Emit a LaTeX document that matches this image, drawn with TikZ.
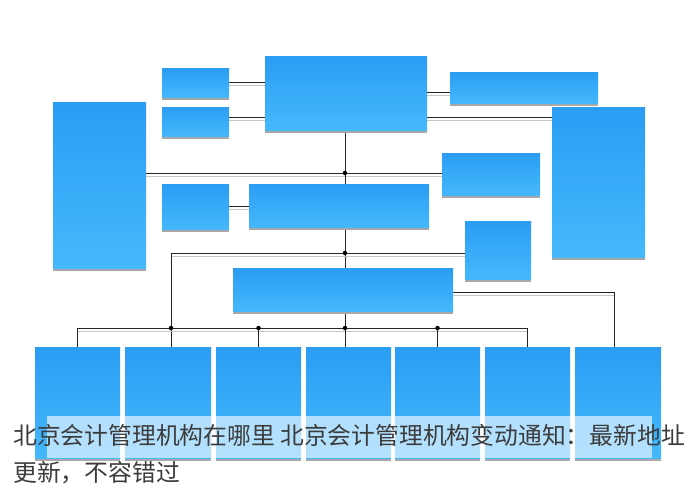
\documentclass[tikz,border=0pt]{standalone}
\usepackage{fontspec}
\newfontfamily\cjk{Noto Sans CJK SC}
\usetikzlibrary{shadows}
\pgfdeclarelayer{bg}
\pgfdeclarelayer{lines}
\pgfsetlayers{bg,lines,main}
\definecolor{boxtop}{HTML}{2A9DF4}
\definecolor{boxbot}{HTML}{45B8FC}
\definecolor{shade}{HTML}{A8A8A8}
\definecolor{txt}{HTML}{3C3C3C}
\tikzset{
  bx/.style={inner sep=0pt, outer sep=0pt, top color=boxtop, bottom color=boxbot, draw=none,
    drop shadow={shadow xshift=0pt, shadow yshift=-3pt, fill=shade, opacity=1}},
  conn/.style={draw=black!85, line width=0.9pt,
    preaction={draw=black!22, line width=0.9pt, transform canvas={yshift=-3pt}}},
  jdot/.style={circle, fill=black, inner sep=0pt, minimum size=4.5pt},
}
% \boxat{name}{x1}{y1}{x2}{y2}
\newcommand{\boxat}[5]{\node[bx, minimum width={#4-#2}, minimum height={#5-#3}] (#1) at ({(#2+#4)/2},{(#3+#5)/2}) {};}
\begin{document}
\begin{tikzpicture}[x=1pt,y=-1pt]
\useasboundingbox (0,0) rectangle (700,488);
\begin{pgfonlayer}{bg}
\fill[white] (0,0) rectangle (700,488);
\end{pgfonlayer}
% boxes
\boxat{A}{162}{68}{229}{97}
\boxat{B}{162}{107}{229}{136}
\boxat{T}{265}{56}{427}{130}
\boxat{L}{53}{102}{146}{268}
\boxat{C}{162}{184}{229}{229}
\boxat{M}{249}{184}{429}{227}
\boxat{TR}{450}{72}{598}{103}
\boxat{R}{552}{107}{645}{257}
\boxat{RM}{442}{153}{540}{195}
\boxat{RS}{465}{221}{531}{279}
\boxat{W}{233}{268}{453}{311}
\boxat{b1}{35}{347}{120}{458}
\boxat{b2}{125}{347}{211}{458}
\boxat{b3}{216}{347}{301}{458}
\boxat{b4}{306}{347}{391}{458}
\boxat{b5}{395}{347}{480}{458}
\boxat{b6}{485}{347}{570}{458}
\boxat{b7}{575}{347}{661}{458}
\coordinate (tx) at (345,0);
\coordinate (lx) at (171,0);
\coordinate (bus) at (0,328);
\coordinate (wr) at (614,0);
\begin{pgfonlayer}{lines}
\draw[conn] (A.east) -- (A.east -| T.west);
\draw[conn] (B.east |- 0,117) -- (T.west |- 0,117);
\draw[conn] (T.east |- 0,92) -- (TR.west |- 0,92);
\draw[conn] (T.east |- 0,117) -- (R.west |- 0,117);
\draw[conn] (L.east |- 0,173) -- (RM.west |- 0,173);
\draw[conn] (C.east) -- (C.east -| M.west);
\draw[conn] (tx |- T.south) -- (tx |- W.north);
\draw[conn] (lx |- 0,253) -- (RS.west |- 0,253);
\draw[conn] (lx |- 0,253) -- (lx |- b2.north);
\draw[conn] (W.east |- 0,292) -- (wr |- 0,292) -- (wr |- b7.north);
\draw[conn] (b1.north |- bus) -- (b6.north |- bus);
\draw[conn] (tx |- W.south) -- (tx |- b4.north);
\draw[conn] (b1.north |- bus) -- (b1.north);
\draw[conn] (b3.north |- bus) -- (b3.north);
\draw[conn] (b5.north |- bus) -- (b5.north);
\draw[conn] (b6.north |- bus) -- (b6.north);
\end{pgfonlayer}
\node[jdot] (d1) at (tx |- 0,173) {};
\node[jdot] (d2) at (tx |- 0,253) {};
\node[jdot] (d3) at (tx |- bus) {};
\node[jdot] (d4) at (lx |- bus) {};
\node[jdot] (d5) at (b3.north |- bus) {};
\node[jdot] (d6) at (b5.north |- bus) {};
% caption band
\fill[white, opacity=0.6] (47,416) rectangle (652,458);
\node[anchor=base west, inner sep=0pt, text=txt, font=\cjk\fontsize{23.8}{30}\selectfont] (t1) at (13,444) {北京会计管理机构在哪里 北京会计管理机构变动通知：最新地址};
\node[anchor=base west, inner sep=0pt, text=txt, font=\cjk\fontsize{23.8}{30}\selectfont] (t2) at (13,481) {更新，不容错过};
\end{tikzpicture}
\end{document}
